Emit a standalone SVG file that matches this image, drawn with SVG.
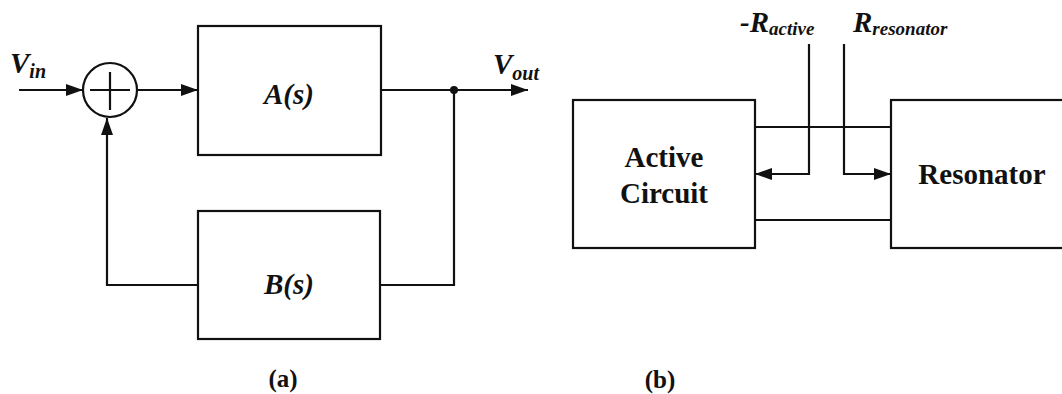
<svg xmlns="http://www.w3.org/2000/svg" width="1062" height="394" viewBox="0 0 1062 394">
<defs>
<marker id="arr" markerUnits="userSpaceOnUse" markerWidth="17" markerHeight="12" refX="17" refY="6" orient="auto">
<path d="M0,0 L17,6 L0,12 Z" fill="#111"/>
</marker>
<style>
.box{fill:none;stroke:#111;stroke-width:2.2}
.ln{fill:none;stroke:#111;stroke-width:2.2}
.bi{font-family:'Liberation Serif','Times New Roman','DejaVu Serif',serif;font-weight:bold;font-style:italic;fill:#111}
.b{font-family:'Liberation Serif','Times New Roman','DejaVu Serif',serif;font-weight:bold;fill:#111}
</style>
</defs>
<rect width="1062" height="394" fill="#fff"/>

<g id="sum">
<circle cx="110" cy="90" r="27" class="box"/>
<line x1="90" y1="90" x2="130" y2="90" class="ln" stroke-width="2.6"/>
<line x1="110" y1="72" x2="110" y2="110" class="ln" stroke-width="2.6"/>
</g>
<g id="A">
<rect x="198" y="26" width="183" height="129" class="box"/>
<text x="289" y="104" text-anchor="middle" class="bi" font-size="29">A(s)</text>
</g>
<g id="B">
<rect x="198" y="211" width="182" height="128" class="box"/>
<text x="289" y="294" text-anchor="middle" class="bi" font-size="29">B(s)</text>
</g>
<g id="active">
<rect x="573" y="100" width="182" height="148" class="box"/>
<text x="664" y="167" text-anchor="middle" class="b" font-size="29">Active</text>
<text x="664" y="203" text-anchor="middle" class="b" font-size="29">Circuit</text>
</g>
<g id="resonator">
<rect x="891" y="100" width="175" height="148" class="box"/>
<text x="982" y="184" text-anchor="middle" class="b" font-size="29">Resonator</text>
</g>

<g id="connectors">
<line x1="19" y1="90" x2="83" y2="90" class="ln" marker-end="url(#arr)"/>
<line x1="137" y1="90" x2="198" y2="90" class="ln" marker-end="url(#arr)"/>
<polyline points="198,285 107,285 107,118" class="ln" marker-end="url(#arr)"/>
<line x1="381" y1="90" x2="528" y2="90" class="ln" marker-end="url(#arr)"/>
<polyline points="380,285 454,285 454,90" class="ln"/>
<circle cx="454" cy="90" r="4" fill="#111"/>
<line x1="755" y1="127" x2="891" y2="127" class="ln"/>
<line x1="755" y1="220" x2="891" y2="220" class="ln"/>
<polyline points="809,44 809,174 755,174" class="ln" marker-end="url(#arr)"/>
<polyline points="844,44 844,174 891,174" class="ln" marker-end="url(#arr)"/>
</g>

<g id="labels">
<text x="10" y="73" class="bi" font-size="29">V<tspan font-size="20" dy="5">in</tspan></text>
<text x="493" y="74" class="bi" font-size="29">V<tspan font-size="20" dy="6">out</tspan></text>
<text x="740" y="32" class="bi" font-size="29">-R<tspan font-size="19" dy="3">active</tspan></text>
<text x="853" y="32" class="bi" font-size="29">R<tspan font-size="19" dy="3">resonator</tspan></text>
<text x="283" y="387" text-anchor="middle" class="b" font-size="25">(a)</text>
<text x="660" y="388" text-anchor="middle" class="b" font-size="25">(b)</text>
</g>
</svg>
